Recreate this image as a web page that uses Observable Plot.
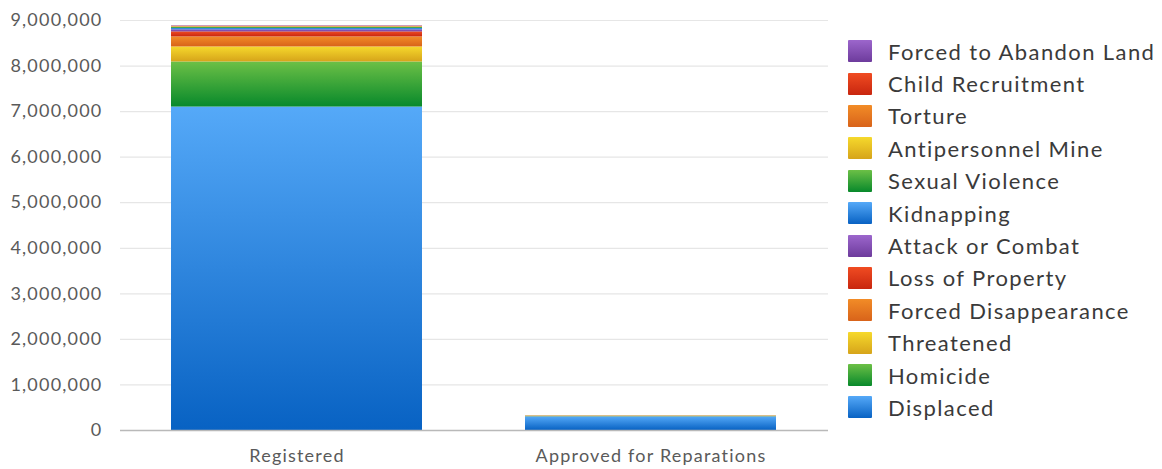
<!DOCTYPE html>
<html>
<head>
<meta charset="utf-8">
<script src="https://cdn.jsdelivr.net/npm/d3@7"></script>
<script src="https://cdn.jsdelivr.net/npm/@observablehq/plot@0.6"></script>
<style>
  html, body { margin: 0; padding: 0; background: #fff; }
  #wrap { position: relative; width: 1162px; height: 469px; font-family: Lato, "Open Sans", sans-serif; }
  #chart { position: absolute; left: 0; top: 0; }
  #legend { position: absolute; left: 848px; top: 35px; }
  .item { display: flex; align-items: center; height: 32.4px; }
  .sw { width: 24px; height: 22px; margin-right: 16px; border-radius: 1px; }
  .lab { font-size: 22px; letter-spacing: 1.4px; color: #3a3a3a; white-space: nowrap; }
</style>
</head>
<body>
<div id="wrap">
  <div id="chart"></div>
  <div id="legend"></div>
</div>
<script>
// Victims by type: registered vs. approved for reparations
const stages = ["Registered", "Approved for Reparations"];
const victimTypes = [
  "Displaced", "Homicide", "Threatened", "Forced Disappearance",
  "Loss of Property", "Attack or Combat", "Kidnapping", "Sexual Violence",
  "Antipersonnel Mine", "Torture", "Child Recruitment", "Forced to Abandon Land"
];
const registered = [7100000, 990000, 330000, 220000, 110000, 45000, 32000, 22000, 10000, 9000, 7000, 8000];
const approved   = [300000, 4000, 12000, 3000, 2000, 1000, 1000, 1000, 500, 500, 300, 300];
const yTicks = [0, 1000000, 2000000, 3000000, 4000000, 5000000, 6000000, 7000000, 8000000, 9000000];

// Colour families cycle through the stack; each has a light top and a dark bottom
const hueOrder = ["blue", "green", "yellow", "orange", "red", "purple"];
const hueStops = {
  blue:   ["#55a9f8", "#0862c3"],
  green:  ["#6cc046", "#08892b"],
  yellow: ["#f6d92c", "#d6a41a"],
  orange: ["#f28c27", "#d8631a"],
  red:    ["#f04c22", "#c8260f"],
  purple: ["#9c66cc", "#6d3b9c"]
};
const hueOf = (type) => hueOrder[victimTypes.indexOf(type) % hueOrder.length];

const rows = [];
stages.forEach((stage, s) => {
  const vals = s === 0 ? registered : approved;
  victimTypes.forEach((type, i) => rows.push({stage, type, value: vals[i]}));
});

const chart = Plot.plot({
  width: 840,
  height: 469,
  marginLeft: 120,
  marginRight: 12,
  marginTop: 20,
  marginBottom: 39,
  style: {fontFamily: "Lato, 'Open Sans', sans-serif", fontSize: "18px", letterSpacing: "1.2px", color: "#5a5a5a", background: "transparent"},
  color: {type: "identity"},
  x: {domain: stages, paddingInner: 0.29, paddingOuter: 0.145, label: null, tickSize: 0, tickPadding: 19},
  y: {domain: [0, 9000000], ticks: yTicks, tickFormat: d3.format(","), label: null, tickSize: 0, tickPadding: 18},
  marks: [
    Plot.ruleY(yTicks.slice(1), {stroke: "#e6e6e6", strokeWidth: 1.2}),
    Plot.barY(rows, Plot.stackY({
      x: "stage",
      y: "value",
      z: "type",
      fill: (d) => `url(#grad-${hueOf(d.type)})`
    })),
    Plot.ruleY([0], {stroke: "#b9b9b9", strokeWidth: 1.5})
  ]
});

// Vertical gradients used by the bar segments
const defs = d3.select(chart).insert("defs", ":first-child");
for (const hue of hueOrder) {
  const g = defs.append("linearGradient").attr("id", `grad-${hue}`)
    .attr("x1", 0).attr("y1", 0).attr("x2", 0).attr("y2", 1);
  g.append("stop").attr("offset", "0%").attr("stop-color", hueStops[hue][0]);
  g.append("stop").attr("offset", "100%").attr("stop-color", hueStops[hue][1]);
}
document.getElementById("chart").appendChild(chart);

// Legend, top of the stack first
const legend = d3.select("#legend");
for (const type of victimTypes.slice().reverse()) {
  const [c0, c1] = hueStops[hueOf(type)];
  const item = legend.append("div").attr("class", "item");
  item.append("div").attr("class", "sw").style("background", `linear-gradient(${c0}, ${c1})`);
  item.append("div").attr("class", "lab").text(type);
}
</script>
</body>
</html>
